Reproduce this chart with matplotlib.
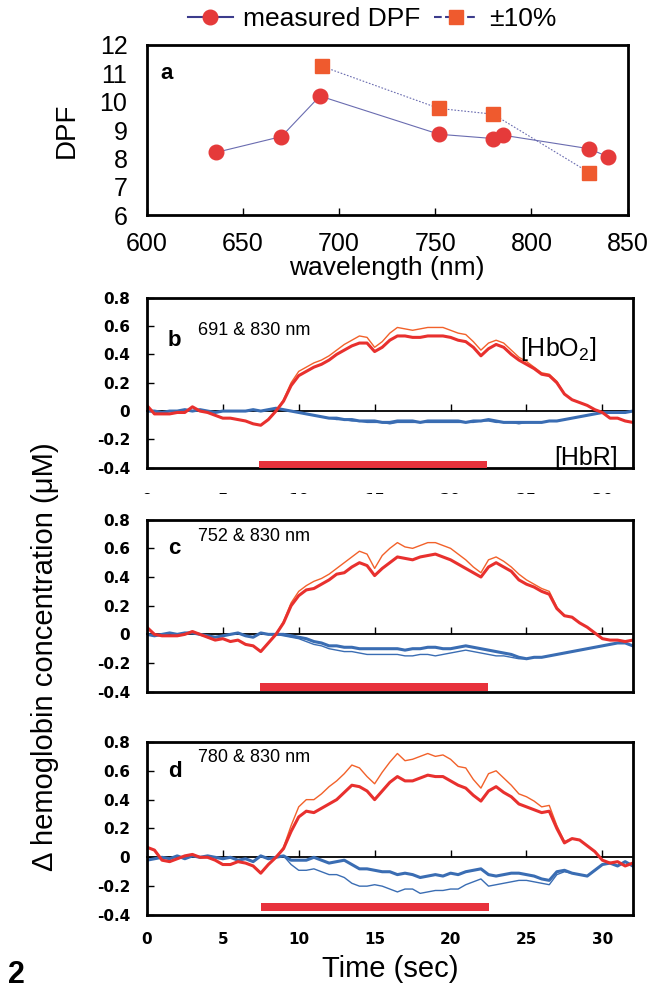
import matplotlib
matplotlib.use("Agg")
import matplotlib.pyplot as plt
from matplotlib.lines import Line2D
from matplotlib.transforms import Bbox

plt.rcParams["font.family"] = ["Liberation Sans", "DejaVu Sans"]
plt.rcParams["mathtext.fontset"] = "custom"
plt.rcParams["mathtext.rm"] = "Liberation Sans"

# ---- panel a: DPF vs wavelength ----
wl_meas = [636, 670, 690, 752, 780, 785, 830, 840]
dpf_meas = [8.21, 8.77, 10.2, 8.85, 8.7, 8.82, 8.34, 8.05]
wl_pm10 = [691, 752, 780, 830]
dpf_pm10 = [11.25, 9.76, 9.56, 7.5]

# ---- panels b-d: time courses (sec, uM) ----
t = [i * 0.5 for i in range(65)]

b_hbo_lo = [0.04, -0.02, -0.02, -0.02, -0.01, -0.01, 0.03, 0.0, -0.01, -0.03,
            -0.05, -0.05, -0.06, -0.07, -0.09, -0.1, -0.06, 0.0, 0.07, 0.18,
            0.25, 0.28, 0.31, 0.33, 0.36, 0.4, 0.43, 0.46, 0.48, 0.48,
            0.42, 0.45, 0.5, 0.53, 0.53, 0.52, 0.52, 0.53, 0.53, 0.53,
            0.52, 0.5, 0.49, 0.45, 0.39, 0.44, 0.47, 0.45, 0.4, 0.36,
            0.33, 0.3, 0.26, 0.25, 0.2, 0.12, 0.08, 0.06, 0.04, 0.01,
            -0.01, -0.05, -0.05, -0.07, -0.08]
b_hbo_hi = [0.04, -0.02, -0.02, -0.02, -0.01, -0.01, 0.03, 0.0, -0.01, -0.03,
            -0.05, -0.05, -0.06, -0.07, -0.09, -0.1, -0.06, 0.0, 0.08, 0.2,
            0.28, 0.31, 0.34, 0.36, 0.39, 0.43, 0.47, 0.5, 0.53, 0.52,
            0.45, 0.49, 0.55, 0.59, 0.58, 0.57, 0.58, 0.59, 0.59, 0.59,
            0.57, 0.55, 0.54, 0.49, 0.43, 0.48, 0.5, 0.48, 0.43, 0.38,
            0.35, 0.31, 0.27, 0.26, 0.21, 0.12, 0.08, 0.06, 0.04, 0.01,
            -0.01, -0.05, -0.05, -0.07, -0.08]
b_hbr_lo = [0.0, 0.0, -0.01, 0.0, 0.0, 0.01, 0.0, 0.01, 0.0, -0.01,
            0.0, 0.0, 0.0, 0.0, 0.01, 0.0, 0.01, 0.02, 0.01, 0.0,
            -0.01, -0.02, -0.03, -0.04, -0.05, -0.05, -0.06, -0.06, -0.07, -0.07,
            -0.07, -0.08, -0.08, -0.07, -0.07, -0.07, -0.08, -0.07, -0.07, -0.07,
            -0.07, -0.07, -0.08, -0.07, -0.07, -0.06, -0.07, -0.08, -0.08, -0.08,
            -0.08, -0.08, -0.08, -0.07, -0.07, -0.06, -0.05, -0.04, -0.03, -0.02,
            -0.01, -0.01, -0.01, -0.01, 0.0]
b_hbr_hi = [0.0, 0.0, -0.01, 0.0, 0.0, 0.01, 0.0, 0.01, 0.0, -0.01,
            0.0, 0.0, 0.0, 0.0, 0.01, 0.0, 0.01, 0.02, 0.01, 0.0,
            -0.01, -0.02, -0.03, -0.04, -0.05, -0.06, -0.06, -0.07, -0.07, -0.08,
            -0.08, -0.08, -0.09, -0.08, -0.08, -0.08, -0.08, -0.08, -0.08, -0.08,
            -0.08, -0.08, -0.08, -0.08, -0.07, -0.07, -0.08, -0.08, -0.08, -0.09,
            -0.08, -0.08, -0.08, -0.07, -0.07, -0.06, -0.05, -0.04, -0.03, -0.02,
            -0.01, -0.01, -0.01, -0.01, 0.0]

c_hbo_lo = [0.05, 0.0, -0.01, -0.01, -0.01, 0.0, 0.02, 0.0, -0.02, -0.04,
            -0.03, -0.05, -0.04, -0.07, -0.08, -0.12, -0.06, 0.0, 0.08, 0.2,
            0.27, 0.31, 0.32, 0.35, 0.38, 0.42, 0.43, 0.47, 0.5, 0.48,
            0.41, 0.46, 0.5, 0.54, 0.53, 0.52, 0.54, 0.55, 0.56, 0.54,
            0.52, 0.49, 0.46, 0.43, 0.4, 0.47, 0.5, 0.47, 0.44, 0.38,
            0.35, 0.33, 0.3, 0.28, 0.18, 0.13, 0.12, 0.08, 0.05, 0.01,
            -0.03, -0.04, -0.04, -0.05, -0.04]
c_hbo_hi = [0.05, 0.0, -0.01, -0.01, -0.01, 0.0, 0.02, 0.0, -0.02, -0.04,
            -0.03, -0.05, -0.04, -0.07, -0.08, -0.12, -0.06, 0.0, 0.09, 0.22,
            0.3, 0.34, 0.37, 0.39, 0.42, 0.46, 0.5, 0.54, 0.58, 0.56,
            0.46, 0.55, 0.6, 0.64, 0.61, 0.6, 0.62, 0.64, 0.64, 0.62,
            0.6, 0.56, 0.52, 0.47, 0.43, 0.52, 0.54, 0.51, 0.47, 0.42,
            0.38, 0.35, 0.32, 0.3, 0.19, 0.13, 0.12, 0.08, 0.05, 0.01,
            -0.03, -0.04, -0.04, -0.05, -0.04]
c_hbr_lo = [0.0, -0.01, 0.0, 0.01, 0.0, 0.01, 0.01, 0.0, -0.01, -0.02,
            -0.01, 0.0, 0.01, -0.01, -0.02, 0.01, 0.0, 0.0, 0.0, -0.01,
            -0.02, -0.03, -0.05, -0.06, -0.08, -0.08, -0.09, -0.09, -0.1, -0.1,
            -0.1, -0.1, -0.1, -0.1, -0.11, -0.1, -0.1, -0.09, -0.09, -0.1,
            -0.1, -0.09, -0.08, -0.09, -0.1, -0.11, -0.12, -0.13, -0.14, -0.16,
            -0.17, -0.16, -0.16, -0.15, -0.14, -0.13, -0.12, -0.11, -0.1, -0.09,
            -0.08, -0.07, -0.06, -0.06, -0.08]
c_hbr_hi = [0.0, -0.01, 0.0, 0.01, 0.0, 0.01, 0.01, 0.0, -0.01, -0.02,
            -0.01, 0.0, 0.01, -0.01, -0.02, 0.01, 0.0, 0.0, -0.01, -0.02,
            -0.03, -0.05, -0.07, -0.08, -0.1, -0.11, -0.12, -0.12, -0.13, -0.14,
            -0.14, -0.14, -0.14, -0.14, -0.15, -0.15, -0.14, -0.14, -0.15, -0.14,
            -0.13, -0.12, -0.11, -0.12, -0.13, -0.14, -0.15, -0.15, -0.16, -0.17,
            -0.17, -0.16, -0.16, -0.15, -0.14, -0.13, -0.12, -0.11, -0.1, -0.09,
            -0.08, -0.07, -0.06, -0.06, -0.08]

d_hbo_lo = [0.07, 0.05, -0.02, -0.03, -0.01, 0.01, 0.02, 0.0, 0.0, -0.02,
            -0.05, -0.05, -0.03, -0.04, -0.06, -0.11, -0.05, 0.0, 0.06, 0.18,
            0.28, 0.32, 0.31, 0.34, 0.37, 0.4, 0.45, 0.5, 0.49, 0.46,
            0.4, 0.46, 0.52, 0.56, 0.53, 0.53, 0.55, 0.57, 0.56, 0.56,
            0.53, 0.5, 0.48, 0.43, 0.39, 0.46, 0.49, 0.45, 0.42, 0.37,
            0.35, 0.33, 0.31, 0.32, 0.2, 0.1, 0.13, 0.12, 0.08, 0.04,
            -0.02, -0.04, -0.03, -0.06, -0.04]
d_hbo_hi = [0.07, 0.05, -0.02, -0.03, -0.01, 0.01, 0.02, 0.0, 0.0, -0.02,
            -0.05, -0.05, -0.03, -0.04, -0.06, -0.11, -0.05, 0.0, 0.07, 0.22,
            0.35, 0.4, 0.4, 0.44, 0.49, 0.53, 0.58, 0.64, 0.62, 0.56,
            0.51, 0.59, 0.66, 0.72, 0.67, 0.68, 0.7, 0.72, 0.7, 0.71,
            0.68, 0.63, 0.62, 0.54, 0.48, 0.58, 0.6, 0.55, 0.5, 0.44,
            0.42, 0.39, 0.35, 0.36, 0.22, 0.11, 0.13, 0.12, 0.08, 0.04,
            -0.02, -0.04, -0.03, -0.06, -0.04]
d_hbr_lo = [-0.02, -0.01, 0.0, -0.01, 0.01, -0.01, 0.01, 0.0, 0.01, 0.0,
            -0.01, 0.0, -0.02, -0.01, -0.03, 0.01, -0.01, 0.0, 0.01, -0.02,
            -0.02, -0.02, 0.0, -0.02, -0.04, -0.03, -0.02, -0.05, -0.08, -0.08,
            -0.09, -0.1, -0.1, -0.12, -0.11, -0.12, -0.14, -0.13, -0.12, -0.13,
            -0.11, -0.12, -0.1, -0.09, -0.08, -0.12, -0.13, -0.12, -0.11, -0.11,
            -0.12, -0.13, -0.15, -0.16, -0.1, -0.09, -0.11, -0.12, -0.13, -0.09,
            -0.05, -0.04, -0.06, -0.03, -0.06]
d_hbr_hi = [-0.02, -0.01, 0.0, -0.01, 0.01, -0.01, 0.01, 0.0, 0.01, 0.0,
            -0.01, 0.0, -0.02, -0.01, -0.03, 0.01, -0.01, 0.0, 0.01, -0.05,
            -0.09, -0.09, -0.08, -0.1, -0.12, -0.12, -0.14, -0.18, -0.2, -0.2,
            -0.19, -0.2, -0.22, -0.24, -0.22, -0.22, -0.25, -0.24, -0.23, -0.23,
            -0.22, -0.22, -0.19, -0.17, -0.15, -0.2, -0.19, -0.18, -0.17, -0.16,
            -0.16, -0.17, -0.18, -0.19, -0.12, -0.1, -0.11, -0.12, -0.13, -0.09,
            -0.05, -0.04, -0.06, -0.03, -0.06]

stim = [[7.4, 22.4], [7.45, 22.45], [7.5, 22.5]]
stim_y = [[-0.4, -0.35], [-0.395, -0.34], [-0.375, -0.32]]
wavelength_pairs = ["691 & 830 nm", "752 & 830 nm", "780 & 830 nm"]
panel_tags = ["b", "c", "d"]
time_ticks = [0, 5, 10, 15, 20, 25, 30]
conc_ticks = [-0.4, -0.2, 0, 0.2, 0.4, 0.6, 0.8]

RED = "#e8302e"
ORANGE = "#f2612a"
BLUE = "#3a6db3"
LINE_A = "#6a6cb0"

W, H = 6.47, 9.91
fig = plt.figure(figsize=(W, H), dpi=100)

# ---- panel a ----
ax = fig.add_axes([0.227, 0.783, 0.743, 0.1716])
ax.plot(wl_meas, dpf_meas, color=LINE_A, lw=0.8, marker="o", ms=10.5,
        mfc="#e53a3a", mec="#e53a3a", zorder=3)
ax.plot(wl_pm10, dpf_pm10, color=LINE_A, lw=0.8, ls=(0, (1.5, 1.5)), marker="s",
        ms=9.5, mfc="#ef5a2e", mec="#ef5a2e", zorder=3)
ax.set_xlim(600, 850)
ax.set_ylim(6, 12)
ax.set_xticks([600, 650, 700, 750, 800, 850])
ax.set_yticks([6, 7, 8, 9, 10, 11, 12])
ax.tick_params(direction="in", length=5, width=1, labelsize=18, pad=12)
ax.tick_params(axis="y", length=0, pad=14)
ax.set_xlabel("wavelength (nm)", fontsize=19, labelpad=0)
ax.set_ylabel("DPF", fontsize=20, labelpad=14)
for s in ax.spines.values():
    s.set_linewidth(2)
ax.text(0.04, 0.83, "a", transform=ax.transAxes, fontsize=16, fontweight="bold",
        ha="center", va="center")

handles = [Line2D([], [], color="#3c3c8c", lw=1.5, marker="o", ms=10.5, mfc="#e53a3a", mec="#e53a3a"),
           Line2D([], [], color="#3c3c8c", lw=1.5, ls="--", marker="s", ms=9.5, mfc="#ef5a2e", mec="#ef5a2e")]
fig.legend(handles, ["measured DPF", "\u00b110%"], loc="center", bbox_to_anchor=(0.575, 0.981),
           ncol=2, frameon=False, fontsize=19, handlelength=1.7, handletextpad=0.4,
           columnspacing=0.5)

# ---- panels b-d ----
series = [(b_hbo_lo, b_hbo_hi, b_hbr_lo, b_hbr_hi),
          (c_hbo_lo, c_hbo_hi, c_hbr_lo, c_hbr_hi),
          (d_hbo_lo, d_hbo_hi, d_hbr_lo, d_hbr_hi)]
boxes = [[0.227, 0.528, 0.751, 0.1716],
         [0.227, 0.302, 0.751, 0.1736],
         [0.227, 0.0767, 0.751, 0.1746]]
tag_y = [0.75, 0.83, 0.83]
note_y = [0.81, 0.9, 0.91]

for i, (hbo_lo, hbo_hi, hbr_lo, hbr_hi) in enumerate(series):
    ax = fig.add_axes(boxes[i])
    ax.plot(t, hbr_hi, color=BLUE, lw=1.0)
    ax.plot(t, hbr_lo, color=BLUE, lw=2.2)
    ax.plot(t, hbo_hi, color=ORANGE, lw=1.0)
    ax.plot(t, hbo_lo, color=RED, lw=2.2)
    ax.fill_between(stim[i], stim_y[i][0], stim_y[i][1], color="#e8323c", lw=0, zorder=4)
    ax.set_xlim(0, 32)
    ax.set_ylim(-0.4, 0.8)
    ax.set_xticks(time_ticks)
    ax.set_yticks(conc_ticks)
    ax.set_yticklabels(["-0.4", "-0.2", "0", "0.2", "0.4", "0.6", "0.8"])
    ax.tick_params(axis="y", direction="in", length=5, width=1, pad=12)
    ax.tick_params(axis="x", length=0, pad=12)
    for s in ax.spines.values():
        s.set_linewidth(2)
    # zero line carrying the time ticks
    zero = ax.secondary_xaxis(1 / 3)
    zero.set_xticks(time_ticks[1:])
    zero.tick_params(direction="in", length=5, width=1, labelbottom=False)
    zero.spines["bottom"].set_linewidth(1.3)
    ax.text(0.057, tag_y[i], panel_tags[i], transform=ax.transAxes, fontsize=16,
            fontweight="bold", ha="center", va="center")
    ax.text(0.105, note_y[i], wavelength_pairs[i], transform=ax.transAxes, fontsize=13,
            ha="left", va="center")
    if i == 0:
        ax.text(0.768, 0.70, r"[HbO$_\mathregular{2}$]", transform=ax.transAxes, fontsize=18,
                ha="left", va="center")
        ax.text(0.97, 0.06, "[HbR]", transform=ax.transAxes, fontsize=18,
                ha="right", va="center")
        # tick labels of b are cut off in the original, only their tops show
        ax.tick_params(axis="x", pad=18.5)
    elif i == 1:
        ax.set_xticklabels([])
    else:
        ax.set_xlabel("Time (sec)", fontsize=21, labelpad=6)
    for lab in ax.get_xticklabels() + ax.get_yticklabels():
        lab.set_fontfamily("DejaVu Sans")
        lab.set_fontweight("bold")
        lab.set_fontsize(11)
    if i == 0:
        clip = Bbox.from_extents(0, H * 100 - 494, W * 100, H * 100)
        for lab in ax.get_xticklabels():
            lab.set_clip_box(clip)
            lab.set_clip_on(True)

fig.text(0.07, 0.337, "\u0394 hemoglobin concentration (\u03bcM)", rotation=90, fontsize=21,
         ha="center", va="center")
fig.text(0.012, 0.016, "2", fontsize=22, fontweight="bold", ha="left", va="center")

fig.savefig("out.png", dpi=100)
